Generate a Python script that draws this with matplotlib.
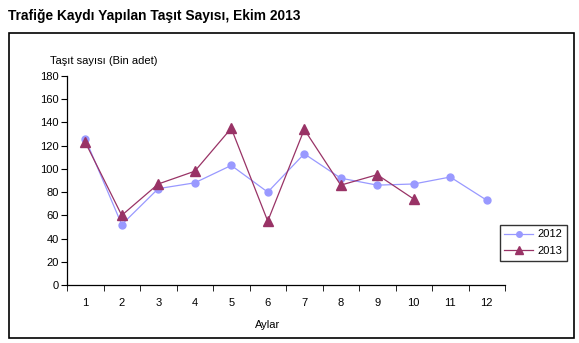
import matplotlib.pyplot as plt
from matplotlib.patches import Rectangle

plt.rcParams['font.family'] = ['Liberation Sans', 'DejaVu Sans']

months = [1, 2, 3, 4, 5, 6, 7, 8, 9, 10, 11, 12]
vehicles_2012 = [126, 52, 83, 88, 103, 80, 113, 92, 86, 87, 93, 73]
vehicles_2013 = [123, 60, 87, 98, 135, 55, 134, 86, 95, 74]

W, H = 579, 343
fig = plt.figure(figsize=(W / 100, H / 100), dpi=100)

# outer frame around the chart
fig.patches.append(Rectangle((9 / W, 1 - 338 / H), 565 / W, 305 / H,
                             transform=fig.transFigure, fill=False,
                             edgecolor='black', linewidth=1.2))

fig.text(8 / W, 1 - 16 / H, 'Trafiğe Kaydı Yapılan Taşıt Sayısı, Ekim 2013',
         fontsize=9.9, fontweight='bold', va='center', ha='left')

ax = fig.add_axes([67 / W, 1 - 285 / H, 438 / W, 209 / H])

ax.plot(months, vehicles_2012, color='#9999FF', marker='o', markersize=5,
        linewidth=0.9, label='2012')
ax.plot(months[:len(vehicles_2013)], vehicles_2013, color='#993366',
        marker='^', markersize=6.5, linewidth=0.9, label='2013')

ax.set_xlim(0.5, 12.5)
ax.set_ylim(0, 180)
ax.set_yticks(range(0, 181, 20))
ax.set_xticks(months)
ax.set_xticks([m + 0.5 for m in range(0, 13)], minor=True)
ax.tick_params(axis='x', which='major', length=0, pad=9, labelsize=8)
ax.tick_params(axis='x', which='minor', length=4, direction='out')
ax.tick_params(axis='y', length=4, direction='out', labelsize=8, pad=2)

for side in ['top', 'right']:
    ax.spines[side].set_visible(False)
for side in ['left', 'bottom']:
    ax.spines[side].set_linewidth(0.9)

fig.text(50 / W, 1 - 61 / H, 'Taşıt sayısı (Bin adet)', fontsize=8,
         ha='left', va='center')
fig.text(268 / W, 1 - 325 / H, 'Aylar', fontsize=8, ha='center', va='center')

leg = fig.legend(loc='upper left', bbox_to_anchor=(500 / W, 1 - 225 / H),
                 fontsize=8, frameon=True, fancybox=False, handlelength=2.6,
                 borderpad=0.4, labelspacing=0.6, handletextpad=0.4,
                 borderaxespad=0, markerscale=0.8)
leg.get_frame().set_edgecolor('black')
leg.get_frame().set_linewidth(1)

fig.savefig('out.png', dpi=100)
